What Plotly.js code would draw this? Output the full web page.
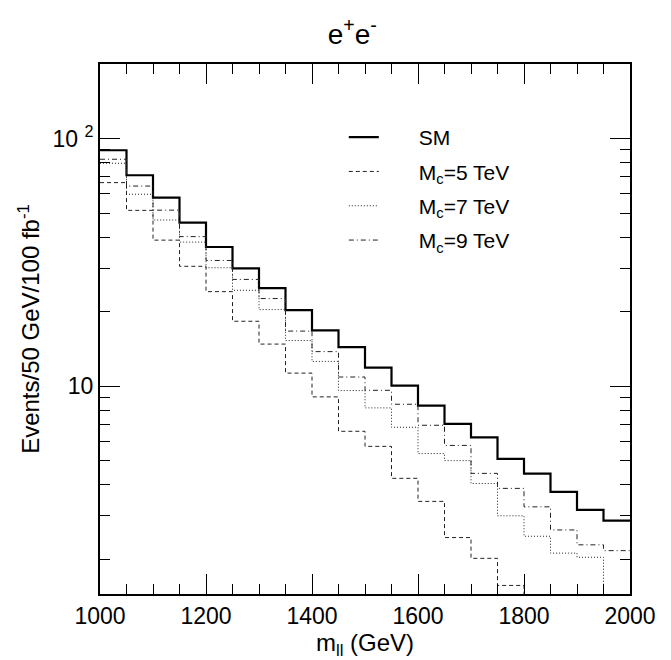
<!DOCTYPE html>
<html>
<head>
<meta charset="utf-8">
<script src="https://cdn.plot.ly/plotly-3.0.1.min.js"></script>
<style>html,body{margin:0;padding:0;background:#fff;}</style>
</head>
<body>
<div id="chart" style="width:671px;height:660px;"></div>
<script>
// bin low edges (GeV), 50 GeV bins from 1000 to 2000
const binLow = [1000,1050,1100,1150,1200,1250,1300,1350,1400,1450,1500,1550,1600,1650,1700,1750,1800,1850,1900,1950];
const binEnd = 2000;
const sm  = [89.7,71.1,57.7,45.8,36.5,29.9,24.9,20.3,16.8,14.4,11.9,10.06,8.36,7.05,6.22,5.09,4.44,3.75,3.17,2.87];
const mc5 = [66.4,51.3,38.9,30.5,24.1,18.3,14.8,11.3,9.06,6.58,5.72,4.25,3.43,2.45,2.02,1.57,1.3,1.1,0.9,0.75];
const mc7 = [79.5,59.6,46.9,38.2,30.1,24.4,20.4,15.3,12.6,9.61,8.18,6.83,5.35,5.01,4.05,3.00,2.48,2.12,2.04,1.3];
const mc9 = [82.5,64.3,51.4,40.2,32.2,27.0,22.6,16.7,13.8,10.9,9.63,8.46,6.96,5.77,4.45,3.87,3.26,2.63,2.29,2.17];
const seriesNames = ['SM','M<sub>c</sub>=5 TeV','M<sub>c</sub>=7 TeV','M<sub>c</sub>=9 TeV'];
const xMajor = [1000,1200,1400,1600,1800,2000];
const xMinor = [1050,1100,1150,1250,1300,1350,1450,1500,1550,1650,1700,1750,1850,1900,1950];
const yMajor = [10,100];
const yMajorText = ['10','10 <sup>2</sup>'];
const yMinor = [2,3,4,5,6,7,8,9,20,30,40,50,60,70,80,90,200];

const pad = '\u00A0\u00A0\u00A0\u00A0\u00A0\u00A0';
function stepTrace(vals, name, line, grp){
  return {
    x: binLow.concat([binEnd]),
    y: vals.concat([vals[vals.length-1]]),
    mode: 'lines',
    line: Object.assign({shape:'hv'}, line),
    name: pad + name,
    legendgroup: grp,
    type: 'scatter'
  };
}
const data = [
  stepTrace(sm, seriesNames[0], {color:'#000', width:2.2}, 'g0'),
  stepTrace(mc5, seriesNames[1], {color:'#222', width:1, dash:'4px,3px'}, 'g1'),
  stepTrace(mc7, seriesNames[2], {color:'#222', width:1, dash:'1px,2px'}, 'g2'),
  stepTrace(mc9, seriesNames[3], {color:'#222', width:1, dash:'5px,3px,1px,3px'}, 'g3')
];
// invisible copy on the mirror axes so their ticks are drawn
const mirror = stepTrace(sm, 'mirror', {color:'rgba(0,0,0,0)', width:0}, 'gm');
mirror.xaxis = 'x2'; mirror.yaxis = 'y2'; mirror.showlegend = false; mirror.hoverinfo = 'skip';
data.push(mirror);

const font = 'Liberation Sans, Arial, Helvetica, sans-serif';
const yRange = [Math.log10(1.45), Math.log10(200)];
const layout = {
  width: 671, height: 660,
  margin: {l:100, r:41, t:64, b:66},
  paper_bgcolor:'#fff', plot_bgcolor:'#fff',
  font: {family: font, color:'#000'},
  showlegend: true,
  title: {text:'e<sup>+</sup>e<sup>-</sup>', font:{size:28, family:font, color:'#000'}, x:0.525, xanchor:'center', y:0.948, yanchor:'middle'},
  legend: {x:0.46, y:0.9, xanchor:'left', yanchor:'top', bgcolor:'rgba(0,0,0,0)', font:{size:21, family:font}, tracegroupgap:4, itemwidth:30},
  xaxis: {
    range:[1000,2000], showline:true, linecolor:'#000', linewidth:2, mirror:true,
    ticks:'inside', ticklen:20, tickwidth:1, tickcolor:'#000',
    tickmode:'array', tickvals:xMajor, ticktext:xMajor.map(String),
    tickfont:{size:23, family:font},
    minor:{tickmode:'array', tickvals:xMinor, ticks:'inside', ticklen:10, tickwidth:1, tickcolor:'#000'},
    showgrid:false, zeroline:false,
    title:{text:'m<sub>ll</sub> (GeV)', font:{size:24, family:font}, standoff:8}
  },
  xaxis2: {
    overlaying:'x', side:'top', range:[1000,2000], showline:false,
    ticks:'inside', ticklen:20, tickwidth:1, tickcolor:'#000',
    tickmode:'array', tickvals:xMajor, showticklabels:false,
    minor:{tickmode:'array', tickvals:xMinor, ticks:'inside', ticklen:10, tickwidth:1, tickcolor:'#000'},
    showgrid:false, zeroline:false
  },
  yaxis: {
    type:'log', range:yRange,
    showline:true, linecolor:'#000', linewidth:2, mirror:true,
    ticks:'inside', ticklen:20, tickwidth:1, tickcolor:'#000',
    tickmode:'array', tickvals:yMajor, ticktext:yMajorText,
    tickfont:{size:23, family:font},
    minor:{tickmode:'array', tickvals:yMinor, ticks:'inside', ticklen:10, tickwidth:1, tickcolor:'#000'},
    showgrid:false, zeroline:false,
    title:{text:'Events/50 GeV/100 fb<sup>-1</sup>', font:{size:24, family:font}, standoff:6}
  },
  yaxis2: {
    type:'log', range:yRange, overlaying:'y', side:'right', showline:false,
    ticks:'inside', ticklen:20, tickwidth:1, tickcolor:'#000',
    tickmode:'array', tickvals:yMajor, showticklabels:false,
    minor:{tickmode:'array', tickvals:yMinor, ticks:'inside', ticklen:10, tickwidth:1, tickcolor:'#000'},
    showgrid:false, zeroline:false
  }
};
Plotly.newPlot('chart', data, layout, {staticPlot:true, displayModeBar:false});
</script>
</body>
</html>
